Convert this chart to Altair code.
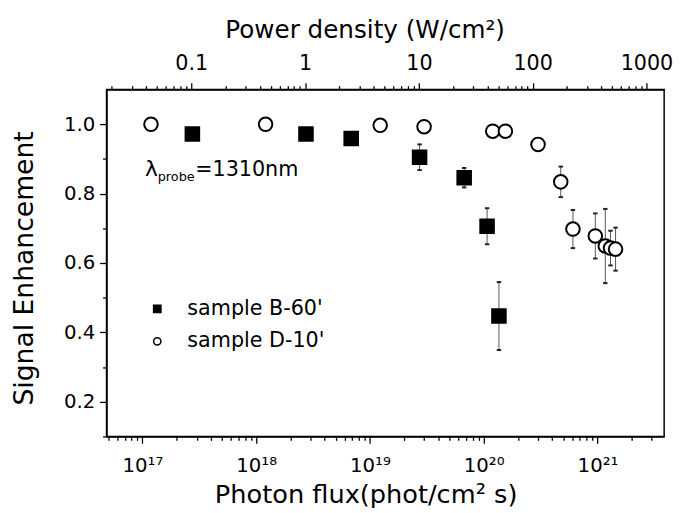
import math
import altair as alt
import pandas as pd

# ---------------- data ----------------
b_label = "sample B-60'"
d_label = "sample D-10'"

# sample B-60' : filled squares
b_flux = [2.75e17, 2.74e18, 6.84e18, 2.73e19, 6.73e19, 1.07e20, 1.36e20]
b_signal = [0.972, 0.972, 0.959, 0.905, 0.846, 0.706, 0.447]
b_err = [0.0, 0.0, 0.0, 0.037, 0.028, 0.052, 0.098]

# sample D-10' : open circles
d_flux = [1.19e17, 1.21e18, 1.23e19, 2.99e19, 1.20e20, 1.55e20, 3.00e20,
          4.75e20, 6.08e20, 9.56e20, 1.17e21, 1.30e21, 1.44e21]
d_signal = [1.0, 1.0, 0.997, 0.993, 0.98, 0.98, 0.942,
            0.834, 0.698, 0.678, 0.649, 0.643, 0.64]
d_err = [0.0, 0.0, 0.0, 0.0, 0.0, 0.0, 0.0,
         0.044, 0.055, 0.065, 0.107, 0.05, 0.062]

# axis tick labels
flux_major = [1e17, 1e18, 1e19, 1e20, 1e21]
power_major = [0.1, 1, 10, 100, 1000]
signal_major = [0.2, 0.4, 0.6, 0.8, 1.0]

X_DOMAIN = [4.84e16, 3.85e21]
PHOTON_E = 3.715e-19          # J per photon (532 nm): W/cm2 = flux * E
P_DOMAIN = [X_DOMAIN[0] * PHOTON_E, X_DOMAIN[1] * PHOTON_E]
Y_DOMAIN = [0.1, 1.1]

FONT = "DejaVu Sans"

# ---------------- tables ----------------
rows = []
for f, s, e in zip(b_flux, b_signal, b_err):
    rows.append(dict(series=b_label, flux=f, signal=s, err=e))
for f, s, e in zip(d_flux, d_signal, d_err):
    rows.append(dict(series=d_label, flux=f, signal=s, err=e))
df = pd.DataFrame(rows)
df["lo"] = df["signal"] - df["err"]
df["hi"] = df["signal"] + df["err"]
err_df = df[df["err"] > 0].reset_index(drop=True)

flux_ticks = sorted(k * 10.0 ** e for e in range(16, 22) for k in range(1, 10)
                    if X_DOMAIN[0] <= k * 10.0 ** e <= X_DOMAIN[1])
power_ticks = sorted(k * 10.0 ** e for e in range(-2, 4) for k in range(1, 10)
                     if P_DOMAIN[0] <= k * 10.0 ** e <= P_DOMAIN[1])
signal_ticks = [round(0.1 * i, 1) for i in range(1, 11)]

# ---------------- axes ----------------
log_major = "abs(datum.value / pow(10, round(log(datum.value) / LN10)) - 1) < 1e-6"
sup = str.maketrans("0123456789", "⁰¹²³⁴⁵⁶⁷⁸⁹")
flux_label = "''"
for v in flux_major:
    e = round(math.log10(v))
    flux_label = f"round(log(datum.value) / LN10) == {e} ? '10{str(e).translate(sup)}' : ({flux_label})"
flux_label = f"{log_major} ? ({flux_label}) : ''"

common_axis = dict(
    labelFont=FONT, titleFont=FONT, labelColor="black", titleColor="black",
    tickColor="black", domainColor="black", domainWidth=1.5, tickWidth=1.3,
    grid=False, labelOverlap=False, labelFlush=False, titleFontWeight="normal",
)

x_axis = alt.Axis(
    orient="bottom", values=flux_ticks, labelExpr=flux_label,
    tickSize={"condition": {"test": log_major, "value": 7}, "value": 4},
    labelFontSize=20, labelPadding=13,
    title="Photon flux(phot/cm² s)", titleFontSize=26,
    titleX=263, titleY=67, titleAlign="center", titleBaseline="alphabetic",
    **common_axis,
)

top_axis = alt.Axis(
    orient="top", values=power_ticks,
    labelExpr=f"{log_major} ? format(datum.value, '~g') : ''",
    tickSize={"condition": {"test": log_major, "value": 7}, "value": 4},
    labelFontSize=21, labelPadding=9,
    title="Power density (W/cm²)", titleFontSize=25,
    titleX=262, titleY=-53, titleAlign="center", titleBaseline="alphabetic",
    **common_axis,
)

y_major = "round(datum.value * 10) % 2 == 0"
y_axis = alt.Axis(
    values=signal_ticks,
    labelExpr=f"{y_major} ? format(datum.value, '.1f') : ''",
    tickSize={"condition": {"test": y_major, "value": 7}, "value": 4},
    labelFontSize=20, labelPadding=5,
    title="Signal Enhancement", titleFontSize=27,
    titleX=-83, titleY=181, titleAngle=270, titleAlign="center", titleBaseline="middle",
    **common_axis,
)

xscale = alt.Scale(type="log", domain=X_DOMAIN, nice=False)
yscale = alt.Scale(domain=Y_DOMAIN, nice=False, zero=False)
xenc = alt.X("flux:Q", scale=xscale, axis=x_axis)

# ---------------- layers ----------------
rules = alt.Chart(err_df).mark_rule(color="#555555", strokeWidth=1).encode(
    x=xenc, y=alt.Y("lo:Q", scale=yscale, axis=y_axis), y2="hi:Q"
)
cap_lo = alt.Chart(err_df).mark_point(shape="stroke", size=20, color="#222222",
                                      strokeWidth=2, filled=False, opacity=1).encode(
    x=xenc, y=alt.Y("lo:Q", scale=yscale, axis=y_axis)
)
cap_hi = alt.Chart(err_df).mark_point(shape="stroke", size=20, color="#222222",
                                      strokeWidth=2, filled=False, opacity=1).encode(
    x=xenc, y=alt.Y("hi:Q", scale=yscale, axis=y_axis)
)

legend = alt.Legend(
    title=None, orient="none", legendX=41, legendY=212,
    labelFont=FONT, labelFontSize=21, labelColor="black",
    symbolSize=55, symbolStrokeWidth=1.5,
    labelOffset=20, rowPadding=11, padding=0,
)
series_domain = [b_label, d_label]
points = alt.Chart(df).mark_point(size=190, strokeWidth=2,
                                  opacity=1, fillOpacity=1).encode(
    x=xenc,
    y=alt.Y("signal:Q", scale=yscale, axis=y_axis),
    shape=alt.Shape("series:N", scale=alt.Scale(domain=series_domain, range=["square", "circle"]), legend=legend),
    fill=alt.Fill("series:N", scale=alt.Scale(domain=series_domain, range=["black", "white"]), legend=legend),
    stroke=alt.Stroke("series:N", scale=alt.Scale(domain=series_domain, range=["black", "black"]), legend=legend),
)

one = pd.DataFrame({"a": [0]})
lam = alt.Chart(one).mark_text(text="λ", font=FONT, fontSize=22, align="left",
                               baseline="alphabetic", color="black").encode(
    x=alt.value(39), y=alt.value(88))
probe = alt.Chart(one).mark_text(text="probe", font=FONT, fontSize=13, align="left",
                                 baseline="alphabetic", color="black").encode(
    x=alt.value(52), y=alt.value(93))
eq = alt.Chart(one).mark_text(text="=1310nm", font=FONT, fontSize=21, align="left",
                              baseline="alphabetic", color="black").encode(
    x=alt.value(90), y=alt.value(88))

inner = alt.layer(rules, cap_lo, cap_hi, points, lam, probe, eq)

top = alt.Chart(pd.DataFrame({"power": power_major})).mark_point(opacity=0).encode(
    x=alt.X("power:Q", scale=alt.Scale(type="log", domain=P_DOMAIN, nice=False), axis=top_axis)
)

chart = (
    alt.layer(inner, top)
    .resolve_scale(x="independent")
    .properties(width=566, height=352, autosize="none",
                padding={"left": 100, "top": 79, "right": 10, "bottom": 80},
                background="white")
    .configure_view(stroke="black", strokeWidth=1.5)
)

chart.save("out.html", embed_options={"renderer": "svg", "actions": False})
